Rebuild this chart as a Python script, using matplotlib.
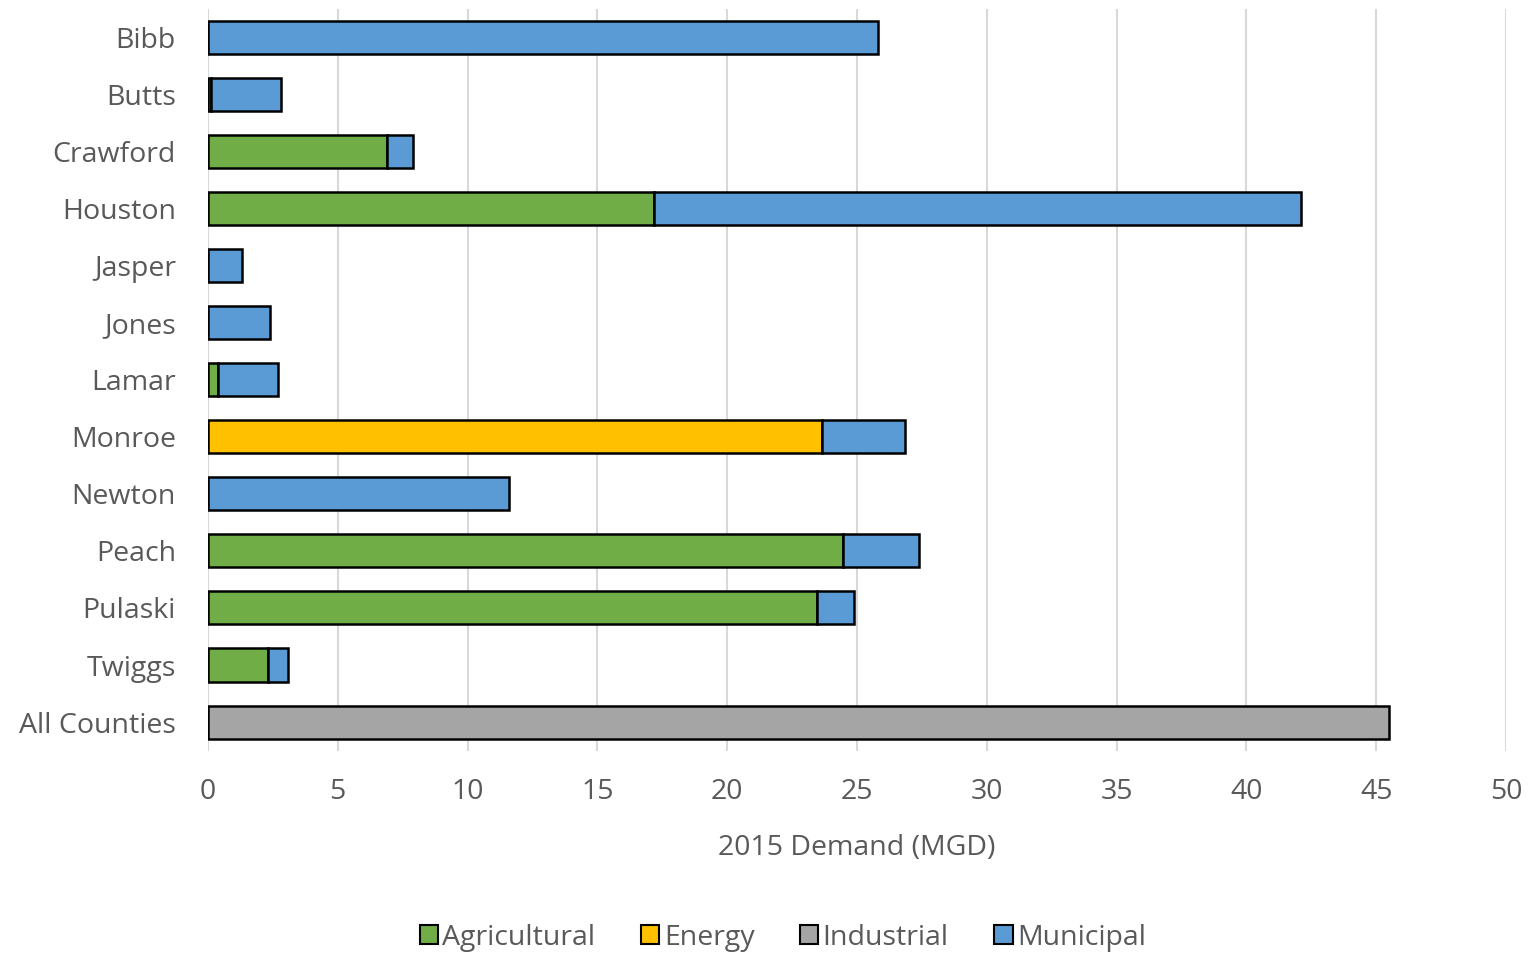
import numpy as np
import matplotlib.pyplot as plt
from matplotlib.patches import Patch

plt.rcParams['font.family'] = ['Open Sans', 'DejaVu Sans']

counties = ["Bibb", "Butts", "Crawford", "Houston", "Jasper", "Jones", "Lamar",
            "Monroe", "Newton", "Peach", "Pulaski", "Twiggs", "All Counties"]
agricultural = [0, 0.1, 6.9, 17.2, 0, 0, 0.4, 0, 0, 24.45, 23.45, 2.3, 0]
energy = [0, 0, 0, 0, 0, 0, 0, 23.65, 0, 0, 0, 0, 0]
industrial = [0, 0, 0, 0, 0, 0, 0, 0, 0, 0, 0, 0, 45.5]
municipal = [25.8, 2.7, 1.0, 24.9, 1.3, 2.4, 2.3, 3.2, 11.6, 2.95, 1.45, 0.8, 0]

series = [("Agricultural", agricultural, "#70AD47"),
          ("Energy", energy, "#FFC000"),
          ("Industrial", industrial, "#A5A5A5"),
          ("Municipal", municipal, "#5B9BD5")]

txt = "#595959"
fs = 20.5
fig = plt.figure(figsize=(15.29, 9.55), dpi=100)
ax = fig.add_axes([0.136, 0.214, 0.849, 0.777])

y = np.arange(len(counties))
left = np.zeros(len(counties))
for name, vals, col in series:
    vals = np.array(vals, dtype=float)
    mask = vals > 0
    ax.barh(y[mask], vals[mask], left=left[mask], height=0.58, color=col,
            edgecolor="black", linewidth=1.8, zorder=3)
    left += vals

ax.set_ylim(len(counties) - 0.5, -0.5)
ax.set_xlim(0, 50)
ax.set_xticks(np.arange(0, 51, 5))
ax.set_yticks(y)
ax.set_yticklabels(counties)
ax.grid(axis="x", color="#D9D9D9", linewidth=1.5, zorder=0)
for s in ax.spines.values():
    s.set_visible(False)
ax.tick_params(axis="both", length=0, labelsize=fs, colors=txt)
ax.tick_params(axis="x", pad=20)
ax.tick_params(axis="y", pad=23)
ax.set_xlabel("2015 Demand (MGD)", fontsize=fs, color=txt, labelpad=20)

handles = [Patch(facecolor=c, edgecolor="black", linewidth=1.5, label=n) for n, _, c in series]
fig.legend(handles=handles, loc="center", bbox_to_anchor=(0.512, 0.018), ncol=4,
           frameon=False, fontsize=fs, handlelength=0.65, handleheight=0.65,
           handletextpad=0.15, columnspacing=1.6, labelcolor=txt)

fig.savefig("out.png", dpi=100)
